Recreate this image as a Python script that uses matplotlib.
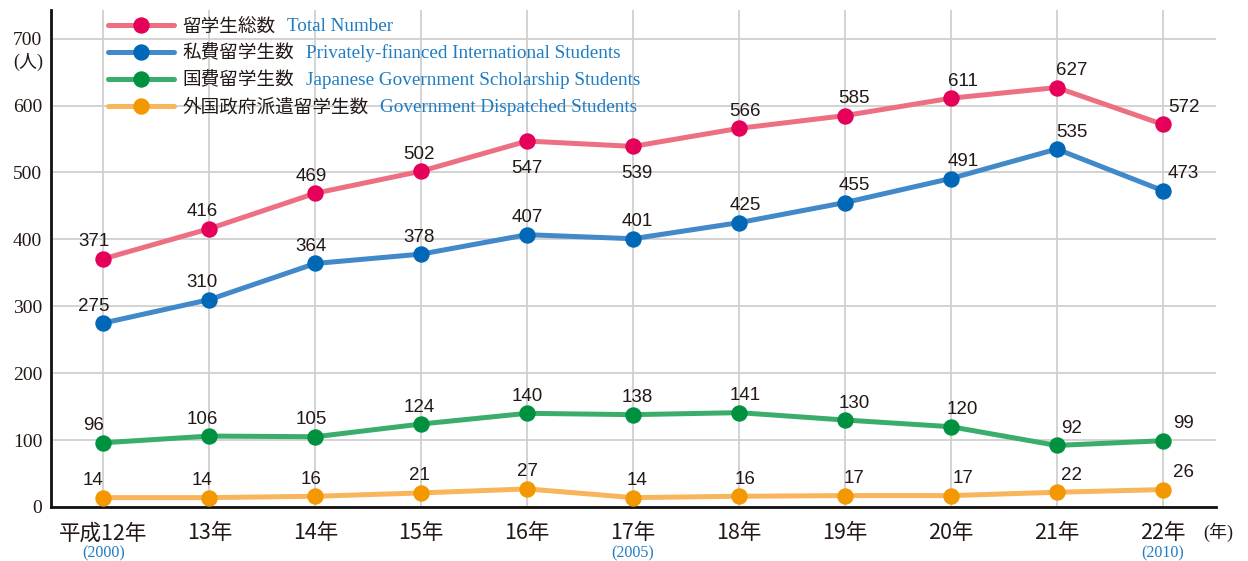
import matplotlib
matplotlib.use("Agg")
import matplotlib.pyplot as plt

plt.rcParams['font.family'] = ['Noto Sans CJK JP', 'DejaVu Sans']

# data
x_labels = ['平成12年', '13年', '14年', '15年', '16年', '17年',
            '18年', '19年', '20年', '21年', '22年']
western_years = {0: '(2000)', 5: '(2005)', 10: '(2010)'}

total = [371, 416, 469, 502, 547, 539, 566, 585, 611, 627, 572]
private = [275, 310, 364, 378, 407, 401, 425, 455, 491, 535, 473]
govt_scholar = [96, 106, 105, 124, 140, 138, 141, 130, 120, 92, 99]
dispatched = [14, 14, 16, 21, 27, 14, 16, 17, 17, 22, 26]

names_jp = ['留学生総数', '私費留学生数', '国費留学生数', '外国政府派遣留学生数']
names_en = ['Total Number', 'Privately-financed International Students',
            'Japanese Government Scholarship Students',
            'Government Dispatched Students']

series = [total, private, govt_scholar, dispatched]
line_colors = ['#EC6F82', '#4189C9', '#3BAD6B', '#F8B55C']
marker_colors = ['#E5005A', '#0068B6', '#009140', '#F39800']

# label placement tweaks (pixels)
col_dx = [-10, -7, -4, -2, 0, 4, 6, 9, 12, 15, 21]
below = {(0, 4), (0, 5)}

text_c = '#231815'
blue_txt = '#1E7CC2'
px = 72 / 100  # points per pixel at dpi 100
W, H = 1248, 561

fig = plt.figure(figsize=(12.48, 5.61), dpi=100)
ax = fig.add_axes([0.0405, 0.0963, 0.9335, 0.886])

xs = list(range(len(x_labels)))
handles = []
for s, (vals, lc, mc) in enumerate(zip(series, line_colors, marker_colors)):
    h, = ax.plot(xs, vals, color=lc, lw=3.6, marker='o', ms=10.8,
                 mfc=mc, mec=mc, solid_capstyle='round', zorder=3)
    handles.append(h)
    for i, v in enumerate(vals):
        dy = -32 if (s, i) in below else 12.5
        ax.annotate(str(v), (i, v), xytext=(col_dx[i] * px, dy * px),
                    textcoords='offset points', ha='center', va='baseline',
                    fontsize=13.5, color=text_c,
                    family=['Liberation Sans'], zorder=4)

ax.set_xlim(-0.5, 10.5)
ax.set_ylim(0, 743)
ax.set_yticks(range(0, 701, 100))
ax.set_yticklabels([str(v) for v in range(0, 701, 100)],
                   fontsize=14, color=text_c)
for t in ax.get_yticklabels():
    t.set_fontfamily(['Liberation Serif'])
ax.set_xticks(xs)
ax.set_xticklabels(x_labels, fontsize=15.5, color=text_c)
ax.tick_params(axis='both', length=0)
ax.tick_params(axis='y', pad=6)
ax.tick_params(axis='x', pad=11)

ax.grid(True, color='#CCCCCC', lw=1.2)
ax.set_axisbelow(True)
for sp in ['top', 'right']:
    ax.spines[sp].set_visible(False)
for sp in ['left', 'bottom']:
    ax.spines[sp].set_linewidth(2.0)
    ax.spines[sp].set_color('#111111')

for i, yr in western_years.items():
    ax.annotate(yr, (i, 0), xycoords=('data', 'axes fraction'),
                xytext=(0, -46 * px), textcoords='offset points',
                ha='center', va='center', fontsize=11.5, color=blue_txt,
                family=['Liberation Serif'])

ax.annotate('(年)', (1, 0), xycoords='axes fraction',
            xytext=(-12 * px, -25 * px), textcoords='offset points',
            ha='left', va='center', fontsize=13, color=text_c,
            family=['Liberation Serif', 'Noto Sans CJK JP'])
ax.annotate('(人)', (0, 700), xycoords=('axes fraction', 'data'),
            xytext=(-7 * px, -23 * px), textcoords='offset points',
            ha='right', va='center', fontsize=13, color=text_c,
            family=['Liberation Serif', 'Noto Sans CJK JP'])

leg = ax.legend(handles, names_jp, loc='upper left',
                bbox_to_anchor=(0.049, 0.985), frameon=False, borderpad=0,
                borderaxespad=0, fontsize=13.4, handlelength=3.55,
                handletextpad=0.45, labelspacing=0.48)
for t in leg.get_texts():
    t.set_color(text_c)

# english names follow the japanese legend text
fig.canvas.draw()
renderer = fig.canvas.get_renderer()
for t, en in zip(leg.get_texts(), names_en):
    bb = t.get_window_extent(renderer)
    fig.text((bb.x1 + 12) / W, (bb.y0 + bb.y1) / 2 / H, en,
             ha='left', va='center', fontsize=13.8, color=blue_txt,
             family=['Liberation Serif'])

fig.savefig('out.png', dpi=100)
